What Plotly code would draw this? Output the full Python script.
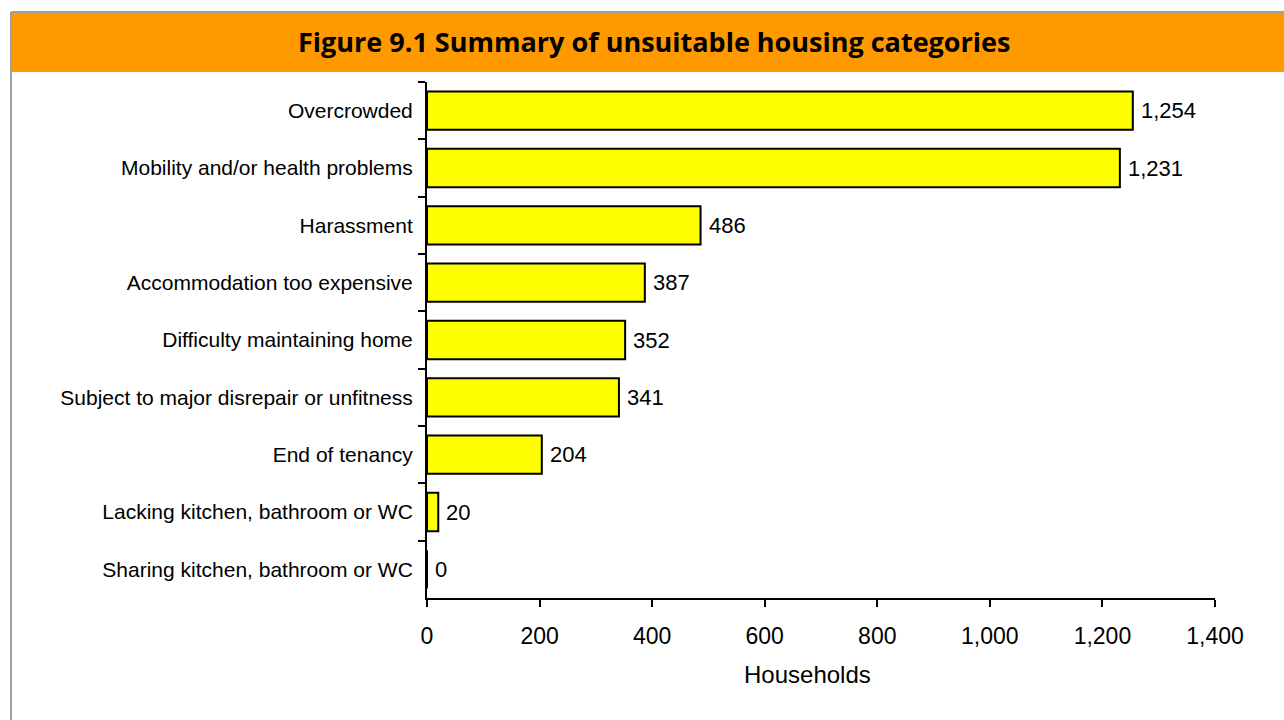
import plotly.graph_objects as go

categories = [
    "Overcrowded",
    "Mobility and/or health problems",
    "Harassment",
    "Accommodation too expensive",
    "Difficulty maintaining home",
    "Subject to major disrepair or unfitness",
    "End of tenancy",
    "Lacking kitchen, bathroom or WC",
    "Sharing kitchen, bathroom or WC",
]
households = [1254, 1231, 486, 387, 352, 341, 204, 20, 0]
x_ticks = [0, 200, 400, 600, 800, 1000, 1200, 1400]

title_text = "Figure 9.1 Summary of unsuitable housing categories"
x_title = "Households"

SANS = "Liberation Sans, Arial, sans-serif"

fig = go.Figure(
    go.Bar(
        x=households,
        y=categories,
        orientation="h",
        marker=dict(color="#FFFF00", line=dict(color="#000000", width=2)),
        hoverinfo="skip",
    )
)

# value labels just right of each bar end
value_labels = [
    dict(x=v, y=c, text=f"{v:,}", xref="x", yref="y",
         xanchor="left", yanchor="middle", xshift=6, showarrow=False,
         font=dict(family=SANS, size=22, color="#000000"))
    for c, v in zip(categories, households)
]

PW, PH, L, T = 788, 516, 427, 82


def px(xp):
    return (xp - L) / PW


def py(yp):
    return (T + PH - yp) / PH


fig.update_layout(
    width=1284,
    height=720,
    margin=dict(l=L, r=1284 - L - PW, t=T, b=720 - T - PH),
    paper_bgcolor="#FFFFFF",
    plot_bgcolor="#FFFFFF",
    bargap=0.33,
    showlegend=False,
    font=dict(family=SANS, size=21, color="#000000"),
    shapes=[
        # orange header band
        dict(type="rect", xref="paper", yref="paper",
             x0=px(11), x1=px(1284), y0=py(72), y1=py(13),
             fillcolor="#FF9900", line=dict(width=0), layer="below"),
        # grey frame: top and left edges
        dict(type="line", xref="paper", yref="paper",
             x0=px(11), x1=px(1284), y0=py(12), y1=py(12),
             line=dict(color="#A0A0A0", width=2)),
        dict(type="line", xref="paper", yref="paper",
             x0=px(11), x1=px(11), y0=py(12), y1=py(720),
             line=dict(color="#A0A0A0", width=2)),
    ],
    annotations=[
        dict(text=f"<b>{title_text}</b>", xref="paper", yref="paper",
             x=px(654), y=py(41),
             xanchor="center", yanchor="middle", showarrow=False,
             font=dict(family="Open Sans, DejaVu Sans, sans-serif", size=27, color="#000000")),
        dict(text=x_title, xref="paper", yref="paper",
             x=px(807), y=py(674),
             xanchor="center", yanchor="middle", showarrow=False,
             font=dict(family=SANS, size=24, color="#000000")),
    ] + value_labels,
)

fig.update_xaxes(
    range=[0, 1400],
    tickvals=x_ticks,
    tickformat=",",
    showline=True, linecolor="#000000", linewidth=2,
    ticks="outside", ticklen=7, tickwidth=2, tickcolor="#000000",
    ticklabelstandoff=9,
    tickfont=dict(size=23),
    showgrid=False, zeroline=False,
)

fig.update_yaxes(
    categoryorder="array",
    categoryarray=categories,
    autorange="reversed",
    showline=True, linecolor="#000000", linewidth=2,
    ticks="outside", ticklen=7, tickwidth=2, tickcolor="#000000",
    tickson="boundaries",
    ticklabelstandoff=8,
    tickfont=dict(size=21),
    showgrid=False, zeroline=False,
)

fig.write_html("out.html")
